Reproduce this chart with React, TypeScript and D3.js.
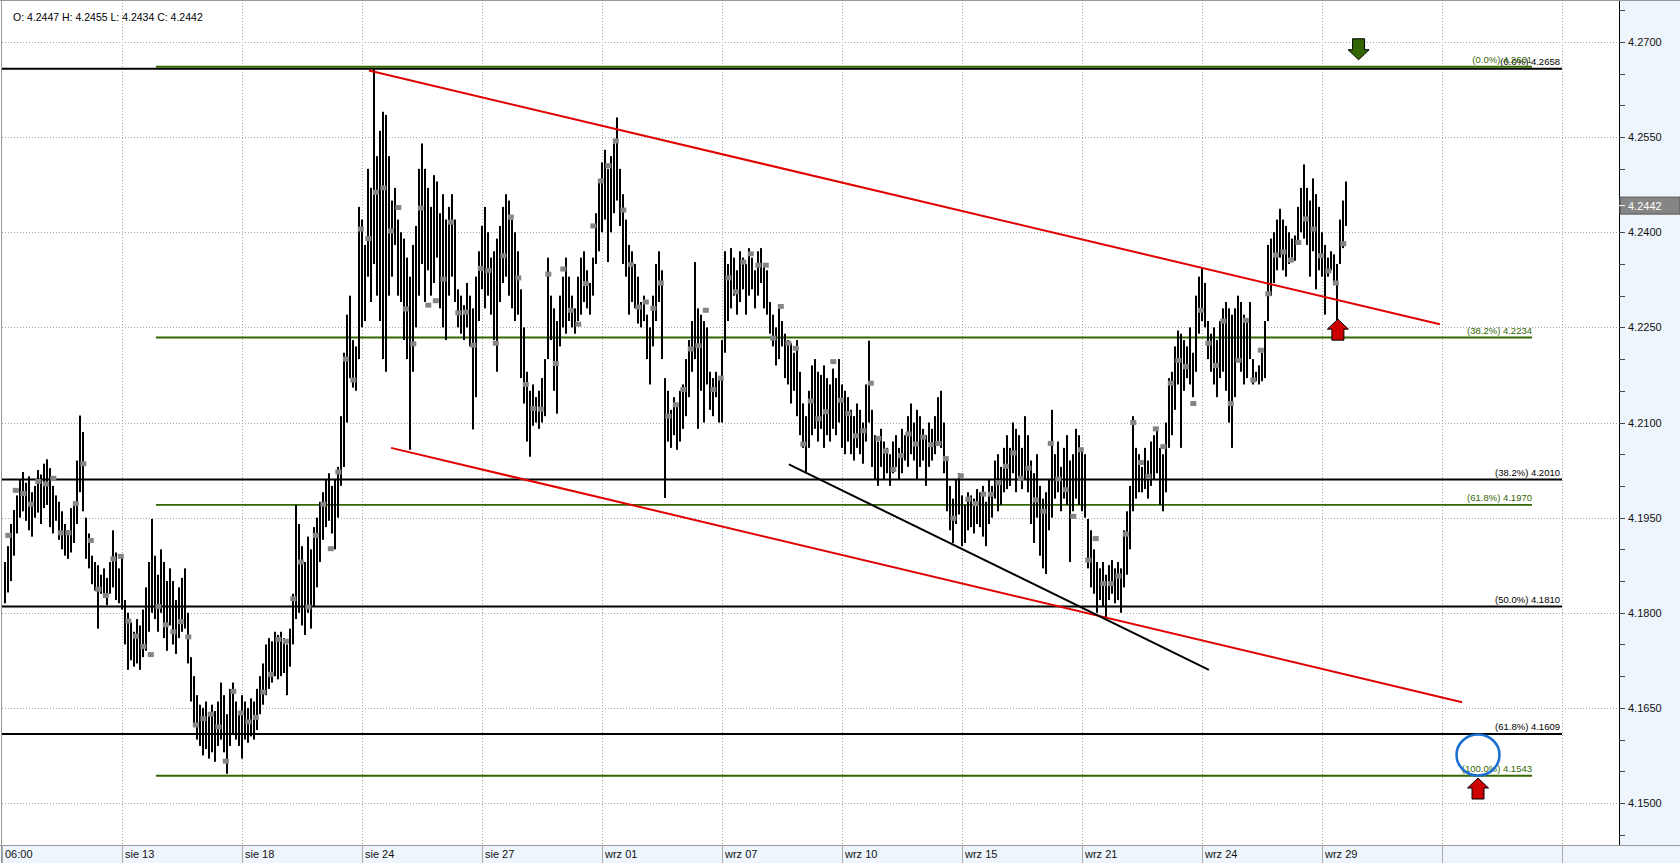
import React from "react";
import * as d3 from "d3";

// Price bars (pips over 4.0000): high and low of each bar
const HIGH = [
1880,1905,1940,1962,1985,2010,2022,2005,2015,1990,
2000,2025,2018,2035,2042,2028,2000,1985,1975,1960,
1940,1930,1965,1975,2040,2111,2085,1950,1925,1890,
1880,1875,1860,1870,1855,1880,1930,1895,1870,1890,
1820,1800,1785,1770,1790,1780,1805,1840,1880,1948,
1890,1860,1900,1880,1850,1870,1850,1820,1840,1855,
1870,1800,1730,1700,1670,1655,1650,1660,1640,1655,
1645,1660,1690,1670,1640,1680,1690,1660,1645,1670,
1660,1650,1665,1660,1680,1700,1720,1750,1760,1755,
1770,1765,1770,1760,1750,1775,1830,1970,1940,1905,
1880,1920,1900,1935,1950,1975,1990,2010,2020,2000,
2010,2030,2110,2210,2270,2300,2230,2220,2440,2420,
2380,2500,2470,2658,2520,2560,2590,2585,2520,2450,
2470,2420,2400,2390,2360,2330,2380,2410,2500,2540,
2500,2470,2440,2490,2480,2430,2460,2420,2440,2460,
2420,2310,2300,2285,2320,2300,2280,2330,2370,2410,
2440,2400,2360,2370,2390,2410,2440,2460,2450,2420,
2400,2370,2310,2250,2180,2150,2160,2140,2150,2170,
2200,2360,2300,2280,2260,2300,2330,2360,2330,2300,
2280,2330,2360,2370,2340,2320,2360,2430,2480,2510,
2530,2500,2520,2540,2581,2500,2460,2420,2380,2370,
2350,2330,2290,2300,2270,2250,2300,2350,2370,2340,
2170,2150,2120,2140,2130,2150,2160,2200,2230,2260,
2353,2280,2270,2260,2250,2180,2170,2180,2170,2230,
2370,2350,2375,2360,2340,2370,2360,2350,2375,2360,
2340,2370,2375,2350,2340,2290,2270,2250,2280,2260,
2240,2230,2225,2210,2230,2180,2130,2110,2150,2190,
2200,2180,2175,2190,2170,2160,2185,2170,2200,2160,
2150,2140,2120,2110,2130,2120,2100,2160,2229,2120,
2080,2070,2090,2070,2060,2050,2070,2080,2060,2090,
2080,2110,2130,2100,2120,2110,2090,2080,2100,2090,
2110,2140,2150,2100,2040,2000,1980,2010,2020,1985,
1970,1990,1985,1980,1995,1990,2000,1975,2010,2000,
2040,2050,2030,2060,2080,2060,2100,2090,2080,2060,
2110,2080,2040,2020,2050,2000,1980,1990,2010,2120,
2050,2070,2030,2060,2080,2040,2050,2090,2080,2060,
2050,1948,1930,1900,1880,1870,1880,1860,1875,1883,
1870,1880,1870,1930,1960,2000,2110,2060,2050,2030,
2060,2040,2070,2080,2090,2060,2050,2100,2170,2180,
2220,2245,2240,2230,2220,2250,2210,2300,2330,2343,
2320,2260,2240,2250,2230,2260,2280,2290,2280,2270,
2280,2300,2290,2270,2260,2290,2200,2180,2190,2210,
2260,2380,2390,2400,2420,2437,2420,2410,2400,2390,
2395,2440,2470,2507,2470,2450,2485,2460,2440,2400,
2380,2360,2370,2365,2350,2420,2450,2480
];
const LOW = [
1815,1832,1850,1890,1925,1950,1960,1945,1930,1920,
1950,1958,1940,1965,1970,1935,1925,1945,1915,1900,
1890,1885,1895,1910,1940,1990,1960,1885,1870,1845,
1835,1775,1830,1825,1812,1830,1840,1820,1815,1805,
1750,1710,1725,1715,1720,1710,1730,1740,1770,1800,
1790,1770,1800,1760,1740,1780,1750,1735,1760,1770,
1775,1720,1660,1620,1600,1590,1575,1585,1570,1580,
1565,1590,1600,1580,1546,1590,1610,1600,1590,1570,
1600,1595,1605,1600,1615,1640,1655,1670,1680,1690,
1700,1695,1700,1705,1670,1715,1750,1790,1800,1780,
1765,1800,1775,1810,1840,1880,1915,1935,1945,1925,
1900,1950,2000,2030,2100,2170,2155,2150,2200,2250,
2260,2330,2290,2350,2300,2260,2200,2180,2300,2330,
2380,2300,2290,2230,2200,2057,2180,2250,2300,2350,
2290,2340,2300,2320,2360,2280,2250,2230,2300,2330,
2290,2250,2240,2230,2250,2220,2089,2140,2260,2310,
2280,2300,2270,2230,2180,2290,2320,2330,2300,2280,
2260,2270,2170,2130,2070,2046,2095,2100,2090,2100,
2110,2200,2230,2150,2114,2220,2250,2240,2260,2250,
2240,2260,2270,2290,2280,2270,2300,2350,2370,2400,
2420,2353,2400,2430,2450,2410,2350,2330,2270,2290,
2280,2256,2250,2260,2200,2160,2220,2260,2290,2200,
1981,2070,2060,2080,2057,2070,2090,2110,2140,2180,
2200,2090,2150,2100,2160,2120,2110,2140,2100,2100,
2210,2260,2280,2300,2270,2290,2310,2270,2300,2310,
2280,2300,2320,2280,2270,2240,2220,2190,2200,2220,
2170,2160,2130,2150,2110,2080,2060,2020,2060,2080,
2090,2070,2090,2060,2080,2070,2090,2080,2100,2060,
2050,2070,2050,2040,2060,2050,2035,2070,2100,2030,
2010,2000,2030,2010,2020,2000,2020,2030,2010,2020,
2040,2030,2050,2040,2010,2030,2040,2000,2030,2040,
2050,2070,2060,2020,1960,1930,1910,1940,1955,1905,
1910,1930,1935,1925,1940,1935,1920,1905,1940,1950,
1980,1960,1970,1990,1995,2000,2020,1990,2010,1995,
2010,1990,1940,1910,1950,1890,1870,1861,1930,1950,
1980,1990,1960,1980,1970,1880,1960,1980,1970,1960,
1950,1870,1840,1830,1800,1820,1810,1792,1820,1830,
1815,1820,1800,1840,1860,1900,1960,1980,1990,1990,
1995,1980,2000,2010,2020,1970,1960,1990,2060,2080,
2120,2160,2060,2150,2170,2160,2140,2180,2240,2260,
2250,2200,2180,2160,2140,2170,2180,2150,2100,2060,
2140,2200,2180,2160,2170,2200,2160,2165,2160,2165,
2170,2260,2300,2320,2340,2360,2340,2330,2350,2360,
2355,2380,2400,2390,2380,2330,2370,2310,2340,2330,
2270,2330,2340,2320,2259,2350,2375,2410
];

// Gray square markers (pips), placed every MARKER_STEP bars starting at MARKER_START
const MARKER_START = 1.1;
const MARKER_STEP = 2.5;
const MARKERS = [
1922,1993,1988,1971,2007,2003,2012,1926,1926,1972,
2035,1914,1837,1827,1885,1889,1787,1763,1747,1734,
1810,1781,1770,1786,1762,1623,1633,1640,1620,1566,
1676,1642,1628,1635,1675,1703,1758,1755,1822,1880,
1809,1922,1971,1901,2022,2200,2167,2405,2390,2463,
2470,2402,2439,2279,2224,2438,2285,2292,2326,2416,
2273,2274,2222,2343,2340,2225,2363,2424,2328,2160,
2122,2121,2334,2193,2342,2277,2255,2319,2410,2481,
2505,2544,2435,2349,2282,2290,2280,2320,2110,2128,
2152,2216,2221,2277,2152,2170,2328,2306,2353,2366,
2348,2348,2233,2283,2225,2217,2066,2134,2106,2117,
2196,2135,2114,2079,2087,2162,2075,2055,2026,2048,
2082,2066,2077,2065,2067,2043,1949,2016,1979,1972,
1987,1987,2005,2031,2052,2012,2028,1978,1960,2067,
2011,1994,1952,2057,1883,1917,1846,1846,1858,1924,
2100,2037,2015,2090,2062,2162,2198,2188,2130,2277,
2225,2190,2260,2130,2198,2261,2167,2214,2303,2364,
2369,2356,2384,2421,2405,2363,2339,2320,2382
];

// Axis
const X_TICK_BARS = [-1, 39, 79, 119, 159, 199, 239, 279, 319, 359, 399, 439, 479, 519];
const X_TICK_LABELS = ["06:00", "sie 13", "sie 18", "sie 24", "sie 27", "wrz 01", "wrz 07", "wrz 10", "wrz 15", "wrz 21", "wrz 24", "wrz 29", "", ""];
const Y_TICK_STEPS = d3.range(0, 27); // 4.145 + k*0.005
const LAST_PRICE = 4.2442;
const OHLC_TEXT = "O: 4.2447 H: 4.2455 L: 4.2434 C: 4.2442";

// Fibonacci levels
const BLACK_FIB_PCT = ["0.0", "38.2", "50.0", "61.8"];
const BLACK_FIB_VAL = [4.2658, 4.201, 4.181, 4.1609];
const BLACK_FIB_RANGE = [-1, 519];
const GREEN_FIB_PCT = ["0.0", "38.2", "61.8", "100.0"];
const GREEN_FIB_VAL = [4.2661, 4.2234, 4.197, 4.1543];
const GREEN_FIB_RANGE = [50.3, 509];

// Trendlines [barIndex, price]
const RED_UPPER = [[121.3, 4.2655], [478.3, 4.2255]];
const RED_LOWER = [[128.7, 4.206], [485.7, 4.1659]];
const BLACK_TREND = [[261.3, 4.2034], [401.3, 4.171]];

// Annotations
const DOWN_ARROWS = [[451.2, 4.2672]];
const UP_ARROWS = [[444.3, 4.2263], [491, 4.15394]];
const CIRCLE = [491, 4.15757];

const W = 1680;
const H = 863;
const PLOT_L = 2;
const PLOT_R = 1619;
const PLOT_B = 845;
const GRID = "#a6a6a6";
const PANEL = "#eef5fd";
const GREEN = "#336600";
const RED = "#e00000";
const FONT = "'Liberation Sans', Arial, sans-serif";

const x = d3.scaleLinear().domain([-1, 538]).range([PLOT_L, PLOT_R]);
const y = d3.scaleLinear().domain([4.15, 4.27]).range([803, 42]);
const pip = (v: number) => 4 + v / 10000;
const fmt = d3.format(".4f");
const line = d3.line<number[]>().x((d) => x(d[0])).y((d) => y(d[1]));

function arrowPath(cx: number, tipY: number, dir: number) {
  // dir = -1 => pointing up (tip at top), 1 => pointing down
  const s = -dir;
  const pts = [
    [0, 0], [10.5, 10 * s], [6, 10 * s], [6, 21 * s], [-6, 21 * s], [-6, 10 * s], [-10.5, 10 * s],
  ];
  return "M" + pts.map((p) => `${cx + p[0]},${tipY + p[1]}`).join("L") + "Z";
}

export default function App() {
  const yTicks = Y_TICK_STEPS.map((k) => 4.145 + k * 0.005);
  const yLabels = yTicks.filter((_, k) => k % 3 === 1);
  return (
    <div>
      <style>{"body{margin:0;background:#fff}"}</style>
      <svg width={W} height={H} style={{ display: "block", fontFamily: FONT }}>
        <rect x={0} y={0} width={W} height={H} fill="#fff" />
        {/* right panel */}
        <rect x={PLOT_R} y={0} width={W - PLOT_R} height={PLOT_B} fill={PANEL} />
        {/* bottom strip */}
        <rect x={0} y={PLOT_B} width={W} height={H - PLOT_B} fill={PANEL} />
        <line x1={0} x2={W} y1={PLOT_B + 0.5} y2={PLOT_B + 0.5} stroke="#999" />

        {/* grid */}
        {yLabels.map((v) => (
          <line key={"hg" + v} x1={PLOT_L} x2={PLOT_R} y1={Math.round(y(v)) + 0.5} y2={Math.round(y(v)) + 0.5}
            stroke={GRID} strokeDasharray="1,2" />
        ))}
        {X_TICK_BARS.slice(1).map((b) => (
          <line key={"vg" + b} x1={x(b) + 0.5} x2={x(b) + 0.5} y1={0} y2={PLOT_B} stroke={GRID} strokeDasharray="1,2" />
        ))}

        {/* x axis labels & separators */}
        {X_TICK_BARS.map((b, i) => (
          <g key={"xl" + b}>
            <line x1={x(b) + 0.5} x2={x(b) + 0.5} y1={PLOT_B} y2={H} stroke="#aaa" />
            <text x={x(b) + 3} y={858} fontSize={11} fill="#111">{X_TICK_LABELS[i]}</text>
          </g>
        ))}

        {/* fib lines */}
        {BLACK_FIB_VAL.map((v, i) => (
          <g key={"bf" + i}>
            <line x1={x(BLACK_FIB_RANGE[0])} x2={x(BLACK_FIB_RANGE[1])} y1={y(v)} y2={y(v)} stroke="#000" strokeWidth={2} />
            <text x={x(BLACK_FIB_RANGE[1]) - 2} y={y(v) - 3.5} fontSize={9.5} textAnchor="end" fill="#000">
              {`(${BLACK_FIB_PCT[i]}%) ${fmt(v)}`}
            </text>
          </g>
        ))}
        {GREEN_FIB_VAL.map((v, i) => (
          <g key={"gf" + i}>
            <line x1={x(GREEN_FIB_RANGE[0])} x2={x(GREEN_FIB_RANGE[1])} y1={y(v)} y2={y(v)} stroke={GREEN} strokeWidth={1.8} />
            <text x={x(GREEN_FIB_RANGE[1])} y={y(v) - 3.5} fontSize={9.5} textAnchor="end" fill={GREEN}>
              {`(${GREEN_FIB_PCT[i]}%) ${fmt(v)}`}
            </text>
          </g>
        ))}

        {/* price bars */}
        {HIGH.map((h, i) => {
          const yt = y(pip(h));
          const yb = y(pip(LOW[i]));
          return <rect key={"b" + i} x={x(i) - 1} y={yt} width={2} height={Math.max(1, yb - yt)} fill="#000" />;
        })}
        {MARKERS.map((m, k) => {
          const cx = x(MARKER_START + k * MARKER_STEP);
          return <rect key={"m" + k} x={cx - 3} y={y(pip(m)) - 2.5} width={6} height={5} fill="#858585" />;
        })}

        {/* trendlines */}
        <path d={line(RED_UPPER) || ""} stroke={RED} strokeWidth={2} fill="none" />
        <path d={line(RED_LOWER) || ""} stroke={RED} strokeWidth={2} fill="none" />
        <path d={line(BLACK_TREND) || ""} stroke="#000" strokeWidth={2} fill="none" />

        {/* annotations */}
        {DOWN_ARROWS.map((a, i) => (
          <path key={"da" + i} d={arrowPath(x(a[0]), y(a[1]), 1)} fill={GREEN} stroke="#000" strokeWidth={1} />
        ))}
        {UP_ARROWS.map((a, i) => (
          <path key={"ua" + i} d={arrowPath(x(a[0]), y(a[1]), -1)} fill="#cc0000" stroke="#000" strokeWidth={1} />
        ))}
        <ellipse cx={x(CIRCLE[0])} cy={y(CIRCLE[1])} rx={21.5} ry={20.5} fill="none" stroke="#1a6fd0" strokeWidth={2.5} />

        {/* right axis */}
        <line x1={PLOT_R + 0.5} x2={PLOT_R + 0.5} y1={0} y2={PLOT_B} stroke="#000" />
        {yTicks.map((v) => (
          <line key={"yt" + v} x1={PLOT_R} x2={PLOT_R + 6} y1={Math.round(y(v)) + 0.5} y2={Math.round(y(v)) + 0.5} stroke="#444" />
        ))}
        {yLabels.map((v) => (
          <text key={"yl" + v} x={1628} y={y(v) + 4} fontSize={11} fill="#111">{fmt(v)}</text>
        ))}
        <rect x={PLOT_R + 1} y={y(LAST_PRICE) - 8.5} width={W - PLOT_R - 1} height={17} fill="#858585" stroke="#555" strokeWidth={1} />
        <line x1={PLOT_R} x2={PLOT_R + 6} y1={y(LAST_PRICE)} y2={y(LAST_PRICE)} stroke="#fff" />
        <text x={1628} y={y(LAST_PRICE) + 4} fontSize={11} fill="#fff">{fmt(LAST_PRICE)}</text>

        {/* frame */}
        <line x1={0} x2={W} y1={0.5} y2={0.5} stroke="#999" />
        <line x1={1.5} x2={1.5} y1={0} y2={H} stroke="#999" />

        <text x={13} y={21} fontSize={10.5} fill="#000">{OHLC_TEXT}</text>
      </svg>
    </div>
  );
}
